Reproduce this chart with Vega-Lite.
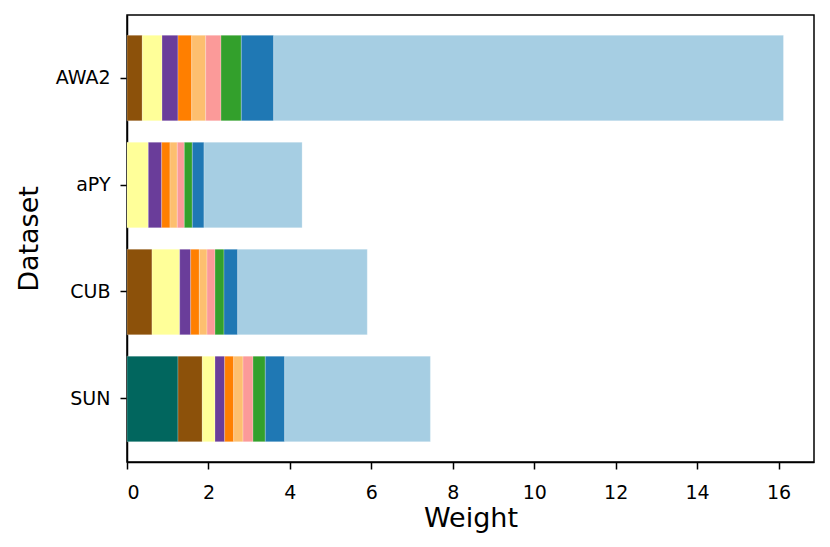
{
  "$schema": "https://vega.github.io/schema/vega-lite/v6.json",
  "autosize": {"type": "none"},
  "padding": {"left": 127, "top": 15, "right": 16, "bottom": 85},
  "width": 687,
  "height": 447,
  "background": "white",
  "config": {
    "font": "DejaVu Sans",
    "view": {"stroke": "black", "strokeWidth": 1.5},
    "axis": {
      "domainColor": "black",
      "domainWidth": 1.5,
      "tickColor": "black",
      "tickWidth": 1.5,
      "tickSize": 7,
      "labelColor": "black",
      "labelFontSize": 19,
      "titleColor": "black",
      "titleFontSize": 27,
      "titleFontWeight": "normal",
      "grid": false
    }
  },
  "data": {
    "values": [
      {"dataset": "AWA2", "part": "p02", "weight": 0.376},
      {"dataset": "AWA2", "part": "p03", "weight": 0.484},
      {"dataset": "AWA2", "part": "p04", "weight": 0.392},
      {"dataset": "AWA2", "part": "p05", "weight": 0.337},
      {"dataset": "AWA2", "part": "p06", "weight": 0.344},
      {"dataset": "AWA2", "part": "p07", "weight": 0.375},
      {"dataset": "AWA2", "part": "p08", "weight": 0.499},
      {"dataset": "AWA2", "part": "p09", "weight": 0.796},
      {"dataset": "AWA2", "part": "p10", "weight": 12.517},
      {"dataset": "aPY", "part": "p03", "weight": 0.523},
      {"dataset": "aPY", "part": "p04", "weight": 0.329},
      {"dataset": "aPY", "part": "p05", "weight": 0.204},
      {"dataset": "aPY", "part": "p06", "weight": 0.179},
      {"dataset": "aPY", "part": "p07", "weight": 0.172},
      {"dataset": "aPY", "part": "p08", "weight": 0.197},
      {"dataset": "aPY", "part": "p09", "weight": 0.287},
      {"dataset": "aPY", "part": "p10", "weight": 2.409},
      {"dataset": "CUB", "part": "p02", "weight": 0.614},
      {"dataset": "CUB", "part": "p03", "weight": 0.680},
      {"dataset": "CUB", "part": "p04", "weight": 0.270},
      {"dataset": "CUB", "part": "p05", "weight": 0.212},
      {"dataset": "CUB", "part": "p06", "weight": 0.189},
      {"dataset": "CUB", "part": "p07", "weight": 0.196},
      {"dataset": "CUB", "part": "p08", "weight": 0.221},
      {"dataset": "CUB", "part": "p09", "weight": 0.337},
      {"dataset": "CUB", "part": "p10", "weight": 3.181},
      {"dataset": "SUN", "part": "p01", "weight": 1.252},
      {"dataset": "SUN", "part": "p02", "weight": 0.597},
      {"dataset": "SUN", "part": "p03", "weight": 0.312},
      {"dataset": "SUN", "part": "p04", "weight": 0.238},
      {"dataset": "SUN", "part": "p05", "weight": 0.221},
      {"dataset": "SUN", "part": "p06", "weight": 0.229},
      {"dataset": "SUN", "part": "p07", "weight": 0.245},
      {"dataset": "SUN", "part": "p08", "weight": 0.302},
      {"dataset": "SUN", "part": "p09", "weight": 0.477},
      {"dataset": "SUN", "part": "p10", "weight": 3.577}
    ]
  },
  "mark": {"type": "bar", "stroke": "white", "strokeWidth": 0.6, "strokeOpacity": 0.4},
  "encoding": {
    "y": {
      "field": "dataset",
      "type": "nominal",
      "sort": ["AWA2", "aPY", "CUB", "SUN"],
      "scale": {"paddingInner": 0.2, "paddingOuter": 0.19},
      "axis": {"title": "Dataset", "titlePadding": 12, "labelPadding": 10}
    },
    "x": {
      "field": "weight",
      "type": "quantitative",
      "aggregate": "sum",
      "stack": "zero",
      "scale": {"domain": [0, 16.87], "nice": false},
      "axis": {"title": "Weight", "values": [0, 2, 4, 6, 8, 10, 12, 14, 16], "labelPadding": 14, "titlePadding": 3}
    },
    "order": {"field": "part", "sort": "ascending"},
    "color": {
      "field": "part",
      "type": "nominal",
      "legend": null,
      "scale": {
        "domain": ["p01", "p02", "p03", "p04", "p05", "p06", "p07", "p08", "p09", "p10"],
        "range": ["#01665e", "#8c510a", "#ffff99", "#6a3d9a", "#ff7f00", "#fdbf6f", "#fb9a99", "#33a02c", "#1f78b4", "#a6cee3"]
      }
    }
  }
}
